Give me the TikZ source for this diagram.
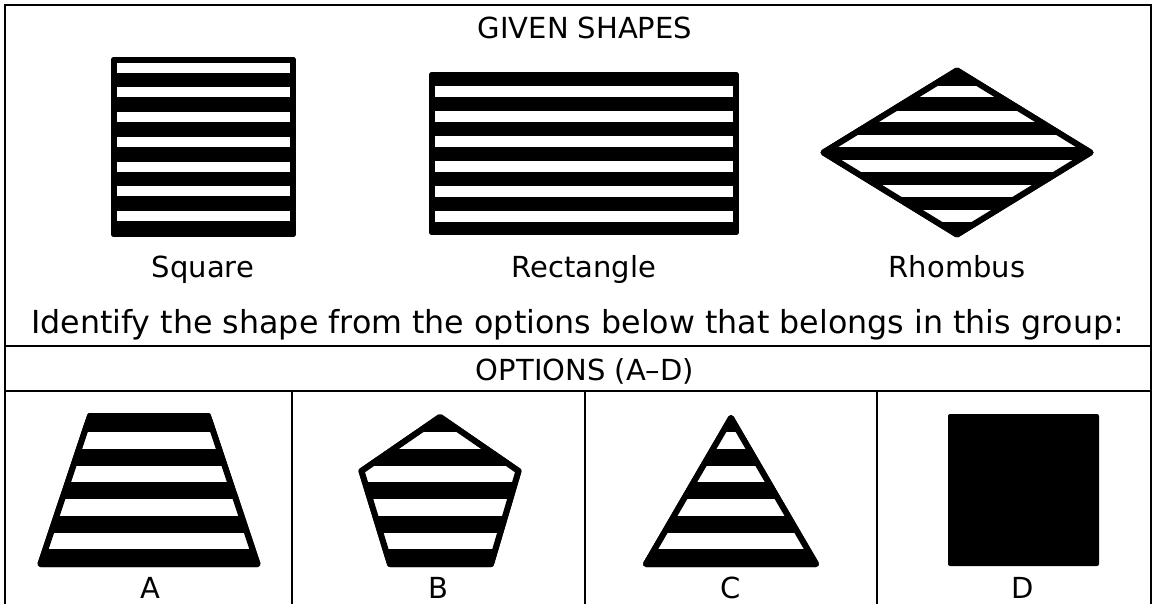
\documentclass[tikz,border=0pt]{standalone}
\usepackage{fontspec}
\setmainfont{DejaVu Sans}
\usetikzlibrary{positioning}
\tikzset{
  frame/.style={draw=black, line width=2pt},
  shapeline/.style={draw=black, fill=black, line width=6pt, line join=round},
  lbl/.style={anchor=base, inner sep=0pt, font=\fontsize{29}{35}\selectfont},
  bigtxt/.style={anchor=base, inner sep=0pt, font=\fontsize{31.7}{38}\selectfont},
}
% black outline, white bands clipped to the outline
\newcommand{\stripedshape}[3]{%
  \filldraw[shapeline] #1;
  \begin{scope}
    \clip #1;
    \foreach \y in {#2} \fill[white] (0,\y) rectangle (1156,\y+#3);
  \end{scope}
  \draw[shapeline, fill=none] #1;
}
\begin{document}
\begin{tikzpicture}[x=1pt, y=-1pt]
  \useasboundingbox (0,0) rectangle (1156,603);
  \clip (0,0) rectangle (1156,603);
  \fill[white] (0,0) rectangle (1156,603);
  % frame
  \draw[frame] (5,620) -- (5,5) -- (1151,5) -- (1151,620);
  \draw[frame] (5,346) -- (1151,346);
  \draw[frame] (5,391) -- (1151,391);
  \foreach \x in {291.5,585,877} \draw[frame] (\x,391) -- (\x,620);
  % given shapes
  \node[lbl] (title) at (585,38) {GIVEN SHAPES};
  \stripedshape{(114,60) rectangle (293,234)}{62.7,87.4,112.1,136.8,161.5,186.2,210.9}{10}
  \stripedshape{(432,75) rectangle (736,232)}{86,111,136,161,186,211}{11}
  \stripedshape{(823.5,152.5) -- (957,70.5) -- (1090.5,152.5) -- (957,234.5) -- cycle}{85.5,110.5,135,160,185,210}{11.5}
  \node[lbl] (lsquare) at (203,277) {Square};
  \node[lbl] (lrect) at (584,277) {Rectangle};
  \node[lbl] (lrhombus) at (957,277) {Rhombus};
  \node[bigtxt] (question) at (577.5,333) {Identify the shape from the options below that belongs in this group:};
  \node[lbl] (optitle) at (585,380) {OPTIONS (A--D)};
  % options
  \stripedshape{(90,416) -- (208,416) -- (257.5,564) -- (40.5,564) -- cycle}{432,465.5,499,532.5}{16.5}
  \stripedshape{(440,417) -- (518.5,471) -- (491,564) -- (390,564) -- (361.5,471) -- cycle}{432,465.5,499,532.5}{16.5}
  \stripedshape{(731,418) -- (816,564) -- (646,564) -- cycle}{432,465.5,499,532.5}{16.5}
  \fill[rounded corners=2pt] (948,414) rectangle (1099,566);
  \node[lbl] (la) at (150,598) {A};
  \node[lbl] (lb) at (438,598) {B};
  \node[lbl] (lc) at (731,598) {C};
  \node[lbl] (ld) at (1023,598) {D};
\end{tikzpicture}
\end{document}
